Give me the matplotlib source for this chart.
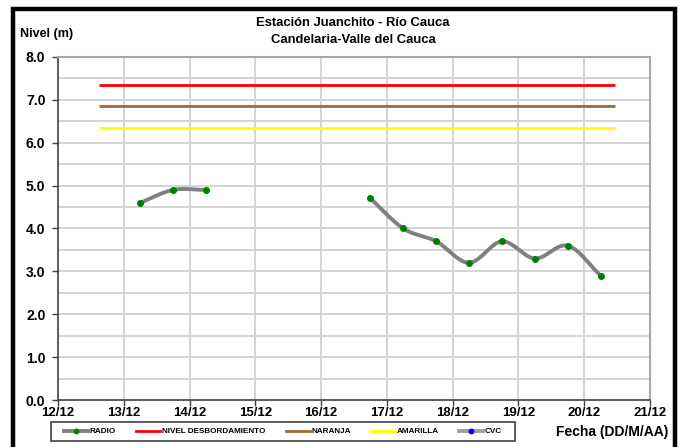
import numpy as np
import matplotlib
matplotlib.use("Agg")
import matplotlib.pyplot as plt
from matplotlib.patches import Rectangle
from matplotlib.lines import Line2D

plt.rcParams['font.family'] = ['Liberation Sans', 'DejaVu Sans']

# ---- data ----
x_ticks = [12, 13, 14, 15, 16, 17, 18, 19, 20, 21]
x_tick_labels = ["12/12", "13/12", "14/12", "15/12", "16/12", "17/12", "18/12", "19/12", "20/12", "21/12"]
y_ticks = [0, 1, 2, 3, 4, 5, 6, 7, 8]
y_tick_labels = ["0.0", "1.0", "2.0", "3.0", "4.0", "5.0", "6.0", "7.0", "8.0"]

radio_day = [13.25, 13.75, 14.25, 16.75, 17.25, 17.75, 18.25, 18.75, 19.25, 19.75, 20.25]
radio_level = [4.6, 4.9, 4.9, 4.7, 4.0, 3.7, 3.2, 3.7, 3.3, 3.6, 2.9]

threshold_span = [12.62, 20.47]
nivel_desbordamiento = 7.35
naranja = 6.85
amarilla = 6.35

W, H = 682, 447
fig = plt.figure(figsize=(W / 100, H / 100), dpi=100)
fig.patch.set_facecolor("white")

ax = fig.add_axes([58 / W, (H - 400) / H, (650 - 58) / W, (400 - 57) / H])
ax.set_xlim(12, 21)
ax.set_ylim(0, 8)

# grid
for v in np.arange(0.5, 8.0, 0.5):
    ax.axhline(v, color="#d4d4d4", lw=1.4, zorder=0)
for d in x_ticks[1:-1]:
    ax.axvline(d, color="#d4d4d4", lw=1.4, zorder=0)

# threshold lines
ax.plot(threshold_span, [nivel_desbordamiento] * 2, color="#ff0000", lw=2, solid_capstyle="butt", zorder=2)
ax.plot(threshold_span, [naranja] * 2, color="#a0683a", lw=2, solid_capstyle="butt", zorder=2)
ax.plot(threshold_span, [amarilla] * 2, color="#ffff00", lw=2, solid_capstyle="butt", zorder=2)


def catmull(xs, ys, n=30):
    xs = np.asarray(xs, float)
    ys = np.asarray(ys, float)
    px = np.concatenate([[2 * xs[0] - xs[1]], xs, [2 * xs[-1] - xs[-2]]])
    py = np.concatenate([[2 * ys[0] - ys[1]], ys, [2 * ys[-1] - ys[-2]]])
    outx, outy = [], []
    for i in range(1, len(px) - 2):
        t = np.linspace(0, 1, n)
        for arr, out in ((px, outx), (py, outy)):
            p0, p1, p2, p3 = arr[i - 1], arr[i], arr[i + 1], arr[i + 2]
            out.extend(0.5 * ((2 * p1) + (-p0 + p2) * t + (2 * p0 - 5 * p1 + 4 * p2 - p3) * t ** 2
                              + (-p0 + 3 * p1 - 3 * p2 + p3) * t ** 3))
    return outx, outy


# split radio series at data gaps
segs = []
cur = [0]
for i in range(1, len(radio_day)):
    if radio_day[i] - radio_day[i - 1] > 0.6:
        segs.append(cur)
        cur = []
    cur.append(i)
segs.append(cur)
for s in segs:
    xs = [radio_day[i] for i in s]
    ys = [radio_level[i] for i in s]
    sx, sy = catmull(xs, ys)
    ax.plot(sx, sy, color="#808080", lw=2.8, zorder=3, solid_capstyle="round")
    ax.plot(xs, ys, "o", color="#008000", ms=4, zorder=4)

ax.set_xticks(x_ticks)
ax.set_xticklabels(x_tick_labels, fontsize=9.5, fontweight="bold")
ax.set_yticks(y_ticks)
ax.set_yticklabels(y_tick_labels, fontsize=10, fontweight="bold")
ax.tick_params(axis="both", direction="out", length=4, width=1, color="#404040")
ax.tick_params(axis="y", pad=5)
ax.tick_params(axis="x", pad=1)
for side in ("left", "bottom"):
    ax.spines[side].set_color("#404040")
    ax.spines[side].set_linewidth(1.2)
for side in ("top", "right"):
    ax.spines[side].set_color("#a8a8a8")
    ax.spines[side].set_linewidth(1.5)

# titles
fig.text(353 / W, 1 - 23.5 / H, "Estación Juanchito - Río Cauca", ha="center", va="center",
         fontsize=9.4, fontweight="bold")
fig.text(353 / W, 1 - 40 / H, "Candelaria-Valle del Cauca", ha="center", va="center",
         fontsize=9.4, fontweight="bold")
fig.text(20 / W, 1 - 34 / H, "Nivel (m)", ha="left", va="center", fontsize=9, fontweight="bold")
fig.text(668 / W, 1 - 432 / H, "Fecha (DD/M/AA)", ha="right", va="center", fontsize=10, fontweight="bold")

# legend
handles = [
    Line2D([], [], color="#808080", lw=2.8, marker="o", markerfacecolor="#008000",
           markeredgecolor="#008000", ms=3.2),
    Line2D([], [], color="#ff0000", lw=2),
    Line2D([], [], color="#a0683a", lw=2),
    Line2D([], [], color="#ffff00", lw=2),
    Line2D([], [], color="#a0a0a0", lw=2.8, marker="o", markerfacecolor="#0000ff",
           markeredgecolor="#0000ff", ms=3.2),
]
labels = ["RADIO", "NIVEL DESBORDAMIENTO", "NARANJA", "AMARILLA", "CVC"]
leg = fig.legend(handles, labels, ncol=5, loc="center",
                 bbox_to_anchor=((51 + 515) / 2 / W, 1 - 431.5 / H),
                 prop={"size": 5.9, "weight": "bold"}, frameon=False,
                 handlelength=2.9, handletextpad=0.2, columnspacing=2.5, borderpad=0.2)
fig.patches.append(Rectangle((51 / W, 1 - 441 / H), (515 - 51) / W, (441 - 422) / H,
                             transform=fig.transFigure, fill=False, edgecolor="#404040",
                             linewidth=1.2, zorder=5))

# outer black frame (cut off at the bottom)
fig.patches.append(Rectangle((13 / W, -0.05), (674.5 - 13) / W, 1.05 - 9 / H,
                             transform=fig.transFigure, fill=False, edgecolor="black",
                             linewidth=3.2, zorder=10))

fig.savefig("out.png", dpi=100)
